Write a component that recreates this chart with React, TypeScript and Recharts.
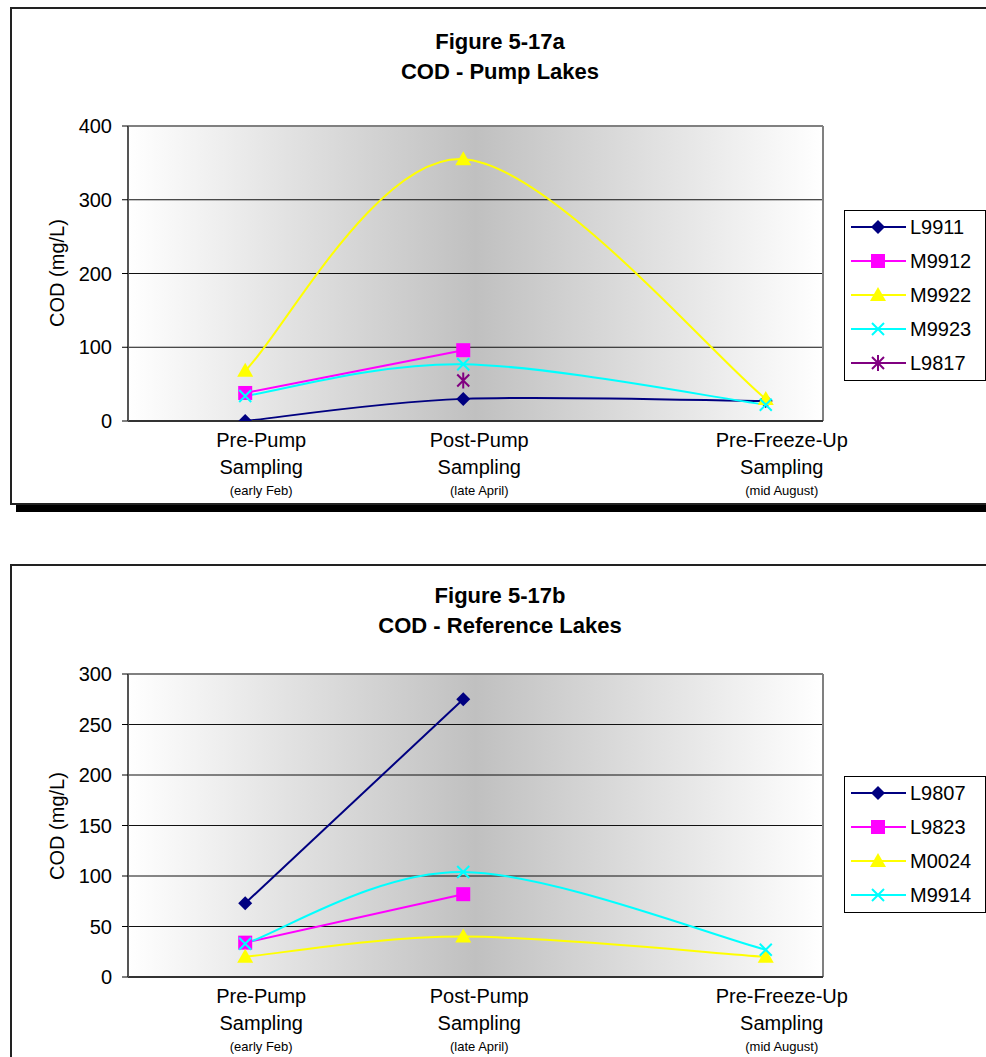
import React from 'react';
import { LineChart, Line, XAxis, YAxis, CartesianGrid, ReferenceLine } from 'recharts';

const FONT = '"Liberation Sans", Arial, Helvetica, sans-serif';

// Sampling events (day of year) and their axis labels
const sampleDays = [36, 116, 227];
const sampleNames = ['Pre-Pump', 'Post-Pump', 'Pre-Freeze-Up'];
const sampleWord = ['Sampling', 'Sampling', 'Sampling'];
const sampleDates = ['(early Feb)', '(late April)', '(mid August)'];
const dayDomain: [number, number] = [-7, 248];

// Figure 5-17a: COD (mg/L) in pump lakes
const L9911 = [0, 30, 27];
const M9912 = [38, 96, null];
const M9922 = [68, 355, 30];
const M9923 = [34, 77, 22];
const L9817 = [null, 55, null];
const pumpTicks = [0, 100, 200, 300, 400];

// Figure 5-17b: COD (mg/L) in reference lakes
const L9807 = [73, 275, null];
const L9823 = [34, 82, null];
const M0024 = [20, 40, 20];
const M9914 = [33, 104, 27];
const refTicks = [0, 50, 100, 150, 200, 250, 300];

type Kind = 'diamond' | 'square' | 'triangle' | 'x' | 'star';
type Series = { name: string; values: (number | null)[]; color: string; marker: Kind };

const pumpSeries: Series[] = [
  { name: 'L9911', values: L9911, color: '#000080', marker: 'diamond' },
  { name: 'M9912', values: M9912, color: '#FF00FF', marker: 'square' },
  { name: 'M9922', values: M9922, color: '#FFFF00', marker: 'triangle' },
  { name: 'M9923', values: M9923, color: '#00FFFF', marker: 'x' },
  { name: 'L9817', values: L9817, color: '#800080', marker: 'star' },
];

const refSeries: Series[] = [
  { name: 'L9807', values: L9807, color: '#000080', marker: 'diamond' },
  { name: 'L9823', values: L9823, color: '#FF00FF', marker: 'square' },
  { name: 'M0024', values: M0024, color: '#FFFF00', marker: 'triangle' },
  { name: 'M9914', values: M9914, color: '#00FFFF', marker: 'x' },
];

// Spreadsheet-style smoothed line: cubic Bezier segments whose control points
// follow the chord between each point's neighbours (Catmull-Rom, 1/6 tension).
function smoothCurve(context: any) {
  let xs: number[] = [];
  let ys: number[] = [];
  return {
    areaStart() {},
    areaEnd() {},
    lineStart() {
      xs = [];
      ys = [];
    },
    lineEnd() {
      const n = xs.length;
      if (!n) return;
      context.moveTo(xs[0], ys[0]);
      if (n === 2) {
        context.lineTo(xs[1], ys[1]);
        return;
      }
      for (let i = 0; i < n - 1; i++) {
        const a = Math.max(i - 1, 0);
        const d = Math.min(i + 2, n - 1);
        context.bezierCurveTo(
          xs[i] + (xs[i + 1] - xs[a]) / 6,
          ys[i] + (ys[i + 1] - ys[a]) / 6,
          xs[i + 1] - (xs[d] - xs[i]) / 6,
          ys[i + 1] - (ys[d] - ys[i]) / 6,
          xs[i + 1],
          ys[i + 1]
        );
      }
    },
    point(x: number, y: number) {
      xs.push(+x);
      ys.push(+y);
    },
  };
}

function Marker({ kind, cx, cy, color }: { kind: Kind; cx: number; cy: number; color: string }) {
  switch (kind) {
    case 'diamond':
      return <polygon points={`${cx},${cy - 7} ${cx + 7},${cy} ${cx},${cy + 7} ${cx - 7},${cy}`} fill={color} />;
    case 'square':
      return <rect x={cx - 7} y={cy - 7} width={14} height={14} fill={color} />;
    case 'triangle':
      return <polygon points={`${cx},${cy - 8} ${cx + 8},${cy + 6} ${cx - 8},${cy + 6}`} fill={color} />;
    case 'x':
      return (
        <path
          d={`M${cx - 6},${cy - 6}L${cx + 6},${cy + 6}M${cx + 6},${cy - 6}L${cx - 6},${cy + 6}`}
          stroke={color}
          strokeWidth={2}
          fill="none"
        />
      );
    case 'star':
      return (
        <path
          d={`M${cx - 6},${cy - 6}L${cx + 6},${cy + 6}M${cx + 6},${cy - 6}L${cx - 6},${cy + 6}M${cx},${cy - 8}L${cx},${cy + 8}`}
          stroke={color}
          strokeWidth={2}
          fill="none"
        />
      );
  }
  return null;
}

const SampleTick = (props: any) => {
  const { x, y, payload } = props;
  const i = sampleDays.indexOf(payload.value);
  if (i < 0) return <g />;
  return (
    <g transform={`translate(${x + 16},${y})`} fontFamily={FONT} fill="#000">
      <text textAnchor="middle" y={26} fontSize={20}>{sampleNames[i]}</text>
      <text textAnchor="middle" y={53} fontSize={20}>{sampleWord[i]}</text>
      <text textAnchor="middle" y={74} fontSize={13}>{sampleDates[i]}</text>
    </g>
  );
};

function LegendBox({ series, left, top }: { series: Series[]; left: number; top: number }) {
  const rowH = 34;
  const h = series.length * rowH;
  return (
    <svg width={142} height={h + 1} style={{ position: 'absolute', left, top, overflow: 'visible' }}>
      <rect x={0.5} y={0.5} width={141} height={h} fill="#fff" stroke="#000" strokeWidth={1} />
      {series.map((s, i) => {
        const cy = 17 + i * rowH;
        return (
          <g key={s.name}>
            <line x1={7} x2={62} y1={cy} y2={cy} stroke={s.color} strokeWidth={2} />
            <Marker kind={s.marker} cx={34} cy={cy} color={s.color} />
            <text x={66} y={cy + 7} fontSize={20} fontFamily={FONT} fill="#000">
              {s.name}
            </text>
          </g>
        );
      })}
    </svg>
  );
}

function CodChart(props: {
  gid: string;
  top: number;
  height: number;
  marginTop: number;
  marginBottom: number;
  yMax: number;
  yTicks: number[];
  series: Series[];
  title1: string;
  title2: string;
  titleTop: number;
  yLabelCenter: number;
  legendTop: number;
}) {
  const { gid, top, height, marginTop, marginBottom, yMax, yTicks, series } = props;
  return (
    <>
      <div
        style={{
          position: 'absolute',
          left: 0,
          top: props.titleTop,
          width: 1000,
          textAlign: 'center',
          fontFamily: FONT,
          fontWeight: 'bold',
          fontSize: 22,
          lineHeight: '30px',
          color: '#000',
        }}
      >
        <div>{props.title1}</div>
        <div>{props.title2}</div>
      </div>
      <div
        style={{
          position: 'absolute',
          left: 57,
          top: props.yLabelCenter,
          transform: 'translate(-50%, -50%) rotate(-90deg)',
          whiteSpace: 'nowrap',
          fontFamily: FONT,
          fontSize: 20,
          color: '#000',
        }}
      >
        COD (mg/L)
      </div>
      <div style={{ position: 'absolute', left: 0, top, width: 986, height }}>
        <LineChart width={986} height={height} margin={{ top: marginTop, right: 163, bottom: marginBottom, left: 68 }}>
          <defs>
            <linearGradient id={gid} x1="0" y1="0" x2="1" y2="0">
              <stop offset="0%" stopColor="#ffffff" />
              <stop offset="50%" stopColor="#c0c0c0" />
              <stop offset="100%" stopColor="#ffffff" />
            </linearGradient>
          </defs>
          <CartesianGrid vertical={false} stroke="#111" strokeWidth={1} fill={`url(#${gid})`} fillOpacity={1} />
          <XAxis
            type="number"
            dataKey="day"
            domain={dayDomain}
            ticks={sampleDays}
            interval={0}
            allowDataOverflow
            height={80}
            tickLine={false}
            tickSize={0}
            tickMargin={0}
            axisLine={{ stroke: '#333', strokeWidth: 2 }}
            tick={<SampleTick />}
          />
          <YAxis
            type="number"
            domain={[0, yMax]}
            ticks={yTicks}
            interval={0}
            allowDataOverflow
            width={60}
            tickSize={6}
            tickMargin={10}
            tickLine={{ stroke: '#000' }}
            axisLine={{ stroke: '#555', strokeWidth: 2 }}
            tick={{ fontSize: 20, fill: '#000', fontFamily: FONT }}
          />
          <ReferenceLine y={yMax} stroke="#808080" strokeWidth={2} />
          <ReferenceLine x={dayDomain[1]} stroke="#808080" strokeWidth={2} />
          {series.map((s) => {
            const data = sampleDays
              .map((d, i) => ({ day: d, v: s.values[i] }))
              .filter((p) => p.v !== null);
            return (
              <Line
                key={s.name}
                data={data}
                dataKey="v"
                name={s.name}
                type={smoothCurve as any}
                stroke={s.color}
                strokeWidth={2}
                isAnimationActive={false}
                activeDot={false}
                dot={(p: any) =>
                  p.cx == null ? (
                    <g key={`${s.name}-${p.index}`} />
                  ) : (
                    <Marker key={`${s.name}-${p.index}`} kind={s.marker} cx={p.cx} cy={p.cy} color={s.color} />
                  )
                }
              />
            );
          })}
        </LineChart>
      </div>
      <LegendBox series={series} left={844} top={props.legendTop} />
    </>
  );
}

export default function App() {
  const frame: React.CSSProperties = {
    position: 'absolute',
    left: 10,
    width: 990,
    border: '2px solid #222',
    background: '#fff',
    boxSizing: 'border-box',
  };
  return (
    <div
      style={{
        position: 'absolute',
        left: 0,
        top: 0,
        width: 986,
        height: 1057,
        overflow: 'hidden',
        background: '#fff',
      }}
    >
      <div style={{ ...frame, top: 7, height: 498, boxShadow: '6px 7px 0 #000' }} />
      <div style={{ ...frame, top: 564, height: 520 }} />
      <CodChart
        gid="bgPump"
        top={0}
        height={520}
        marginTop={126}
        marginBottom={19}
        yMax={400}
        yTicks={pumpTicks}
        series={pumpSeries}
        title1="Figure 5-17a"
        title2="COD - Pump Lakes"
        titleTop={27}
        yLabelCenter={273}
        legendTop={210}
      />
      <CodChart
        gid="bgRef"
        top={540}
        height={517}
        marginTop={134}
        marginBottom={0}
        yMax={300}
        yTicks={refTicks}
        series={refSeries}
        title1="Figure 5-17b"
        title2="COD - Reference Lakes"
        titleTop={581}
        yLabelCenter={826}
        legendTop={776}
      />
    </div>
  );
}
